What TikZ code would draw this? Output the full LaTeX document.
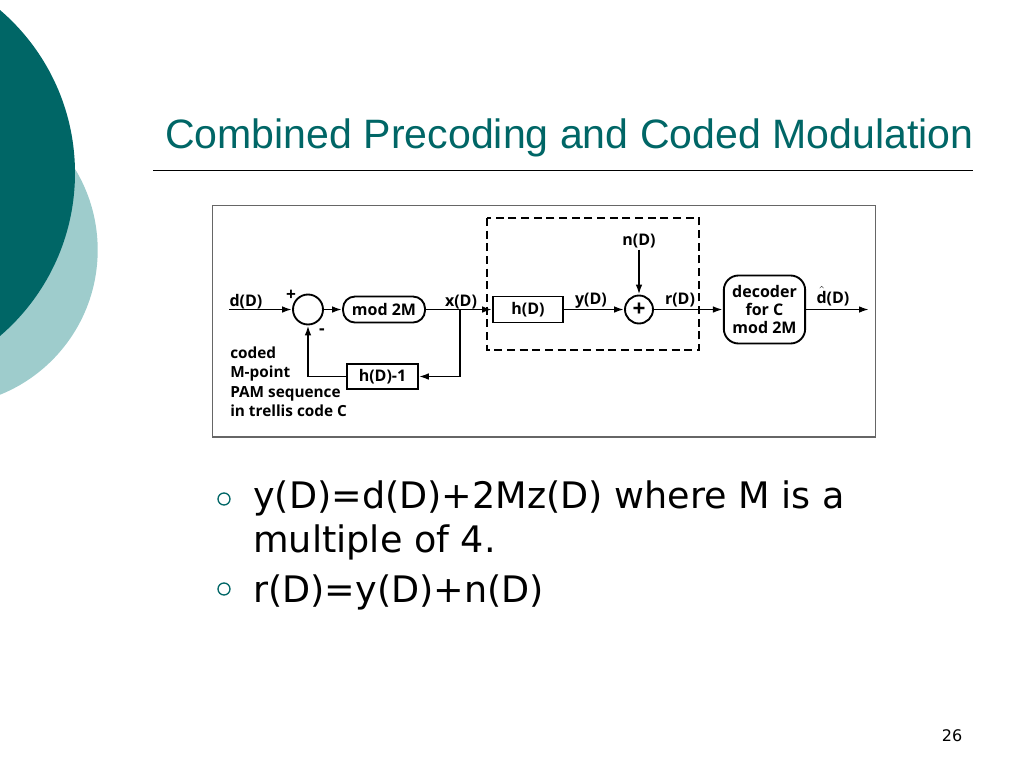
\documentclass[tikz,border=0pt]{standalone}
\usepackage{fontspec}
\setmainfont{DejaVu Sans}
\newfontfamily\titlefont{Liberation Sans}
\newfontfamily\blockfont{Open Sans}
\usetikzlibrary{arrows.meta,positioning}
\definecolor{darkteal}{RGB}{0,102,102}
\definecolor{lightteal}{RGB}{158,204,204}
\tikzset{block/.style = {shape=rectangle,draw,line width=1.4pt,minimum height=19.5pt,inner sep=1pt}}
\tikzset{rblock/.style = {block,rounded corners=9pt}}
\tikzset{adder/.style = {shape=circle,draw,line width=1.4pt,inner sep=0pt}}
\tikzset{edge/.style = {->,> = {Latex[length=7.5pt,width=5pt]},line width=1.4pt}}
\tikzset{lbl/.style = {inner sep=0pt,anchor=base}}
\tikzset{bulletmark/.style = {shape=circle,draw=darkteal,line width=1pt,minimum size=9pt,inner sep=0pt}}
\newcommand{\hatd}{$\hat{\mbox{\blockfont\bfseries d}}$}

\begin{document}
\begin{tikzpicture}[x=0.75pt,y=-0.75pt,font=\blockfont\bfseries\fontsize{12}{13.5}\selectfont]
          \useasboundingbox (0,0) rectangle (1024,768);
          \begin{scope}
            \clip (0,0) rectangle (1024,768);
            \fill[lightteal] (-58.3,250) circle [radius=156];
            \fill[darkteal] (-139.6,173) circle [radius=214.6];
          \end{scope}

          \node[anchor=base west,inner sep=0pt,text=darkteal,font=\titlefont\fontsize{30.8}{36}\selectfont] (title) at (165,148) {Combined Precoding and Coded Modulation};
          \draw[line width=1.1pt] (153,170.5) -- (973,170.5);

          \draw[black!60,line width=1.3pt] (212.5,205.5) rectangle (875.5,437);
          \draw[line width=1.3pt,dash pattern=on 6pt off 3.5pt] (487,218) rectangle (699,350);

          \node[adder,minimum size=22.5pt] (sum) at (308,309.5) {};
          \node[rblock,minimum width=61.5pt] (mod) at (384,309.5) {mod 2M};
          \node[block,minimum width=53pt,minimum height=19pt] (fb) at (382.5,376.5) {h(D)-1};
          \node[block,minimum width=52.5pt] (h) at (528,309.5) {h(D)};
          \node[adder,minimum size=21pt,font=\blockfont\bfseries\fontsize{17}{17}\selectfont] (add) at (639,309.5) {+};
          \node[rblock,rounded corners=11pt,minimum width=61pt,minimum height=51pt,align=center] (dec) at (764.5,309.5) {decoder\\for C\\mod 2M};
          \coordinate (in) at (229,309.5);
          \coordinate (out) at (869,309.5);
          \coordinate (tap) at (460,309.5);
          \node[inner sep=1pt] (n) at (639,241) {n(D)};

          \draw[edge] (in) -- (sum);
          \draw[edge] (sum) -- (mod);
          \draw[edge] (mod) -- (h);
          \draw[edge] (tap) |- (fb);
          \draw[edge] (fb) -| (sum);
          \draw[edge] (h) -- (add);
          \draw[edge] (n) -- (add);
          \draw[edge] (add) -- (dec);
          \draw[edge] (dec) -- (out);

          \node[lbl] (d) at (246,306) {d(D)};
          \node[lbl,font=\blockfont\bfseries\fontsize{13}{13}\selectfont] (plus) at (291,300) {+};
          \node[lbl,font=\blockfont\bfseries\fontsize{13}{13}\selectfont] (minus) at (322,334) {-};
          \node[lbl] (x) at (461,306) {x(D)};
          \node[lbl] (y) at (591,304) {y(D)};
          \node[lbl] (r) at (680,304) {r(D)};
          \node[lbl] (dhat) at (833,303) {\hatd(D)};
          \node[anchor=north west,inner sep=0pt,align=left,font=\blockfont\bfseries\fontsize{11.5}{14.5}\selectfont] (code) at (230,346.5) {coded\\M-point\\PAM sequence\\in trellis code C};

          \node[bulletmark] (b1) at (224,499) {};
          \node[bulletmark] (b2) at (224,589) {};
          \node[anchor=base west,inner sep=0pt,font=\normalfont\fontsize{27.4}{33}\selectfont] (t1) at (253,508) {y(D)=d(D)+2Mz(D) where M is a};
          \node[anchor=base west,inner sep=0pt,font=\normalfont\fontsize{27.4}{33}\selectfont] (t2) at (253,552) {multiple of 4.};
          \node[anchor=base west,inner sep=0pt,font=\normalfont\fontsize{27.4}{33}\selectfont] (t3) at (253,602) {r(D)=y(D)+n(D)};

          \node[font=\normalfont\fontsize{12}{14}\selectfont] (page) at (952,736) {26};
        \end{tikzpicture}
\end{document}
